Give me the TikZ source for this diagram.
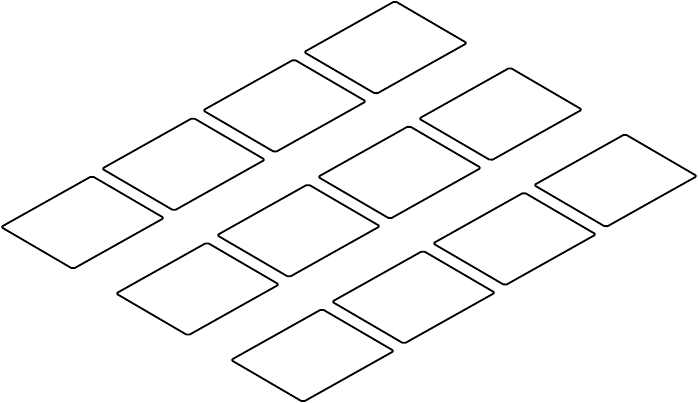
\documentclass[tikz,border=0pt]{standalone}

\tikzset{tile/.style = {draw, rounded corners = 2pt}}

\begin{document}

\begin{tikzpicture}[x = 1pt, y = 1pt, line width = 1.8pt, line join = round]

	% Picture frame
	
	\useasboundingbox (0, 0) rectangle (698, 403);
	
	% Tile edges and spacing between tiles
	
	\def\Ux{91}
	\def\Uy{51}
	\def\Vx{72}
	\def\Vy{42}
	
	% Three rows of four tiles
	
	\foreach \r in {0, 1, 2}
		\foreach \c in {0, ..., 3}
			\draw [tile] ({1 + 101*\c + 115*\r}, {176 + 58.3*\c - 66.5*\r})
				-- ++(\Ux, \Uy) -- ++(\Vx, -\Vy) -- ++(-\Ux, -\Uy) -- cycle;

\end{tikzpicture}

\end{document}
